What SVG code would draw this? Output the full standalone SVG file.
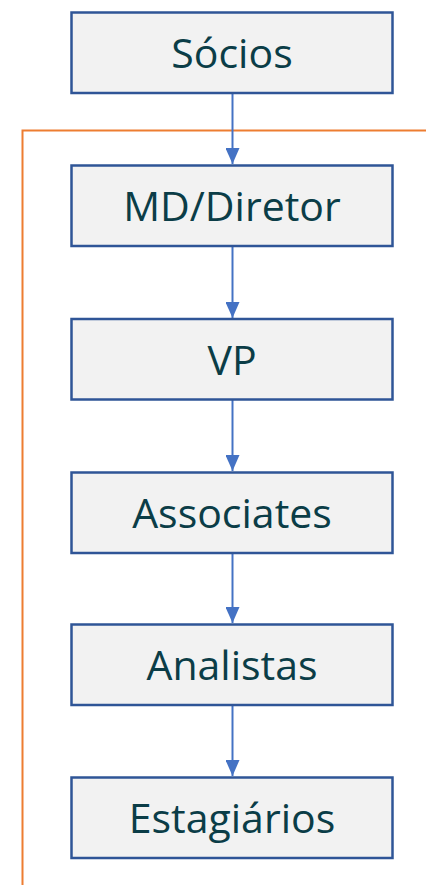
<svg xmlns="http://www.w3.org/2000/svg" width="426" height="885" viewBox="0 0 426 885">
<style>
.box{fill:#F2F2F2;stroke:#2F5597;stroke-width:2.5}
.lbl{font-family:"Open Sans","Noto Sans",sans-serif;font-size:41px;fill:#0B3D47;text-anchor:middle}
.conn{stroke:#4472C4;stroke-width:2;fill:none}
</style>
<defs>
<marker id="arr" markerWidth="8" markerHeight="7" refX="8" refY="3.5" orient="auto" markerUnits="strokeWidth">
<path d="M0,0 L8,3.5 L0,7 Z" fill="#4472C4"/>
</marker>
</defs>
<rect width="426" height="885" fill="#FFFFFF"/>
<path d="M426,130.5 H22.5 V885" fill="none" stroke="#ED7D31" stroke-width="2"/>
<g id="connectors">
<line class="conn" x1="232.5" y1="93" x2="232.5" y2="164" marker-end="url(#arr)"/>
<line class="conn" x1="232.5" y1="247" x2="232.5" y2="318" marker-end="url(#arr)"/>
<line class="conn" x1="232.5" y1="400" x2="232.5" y2="471" marker-end="url(#arr)"/>
<line class="conn" x1="232.5" y1="553" x2="232.5" y2="623" marker-end="url(#arr)"/>
<line class="conn" x1="232.5" y1="706" x2="232.5" y2="776" marker-end="url(#arr)"/>
</g>
<g id="socios"><rect class="box" x="71.5" y="12.5" width="321" height="80.5"/><text class="lbl" x="232" y="68">Sócios</text></g>
<g id="md"><rect class="box" x="71.5" y="165.5" width="321" height="80.5"/><text class="lbl" x="232" y="221">MD/Diretor</text></g>
<g id="vp"><rect class="box" x="71.5" y="319" width="321" height="80.5"/><text class="lbl" x="232" y="375">VP</text></g>
<g id="associates"><rect class="box" x="71.5" y="472.5" width="321" height="80.5"/><text class="lbl" x="232" y="528">Associates</text></g>
<g id="analistas"><rect class="box" x="71.5" y="624.5" width="321" height="80.5"/><text class="lbl" x="232" y="680">Analistas</text></g>
<g id="estagiarios"><rect class="box" x="71.5" y="777.5" width="321" height="80.5"/><text class="lbl" x="232" y="833">Estagiários</text></g>
</svg>
